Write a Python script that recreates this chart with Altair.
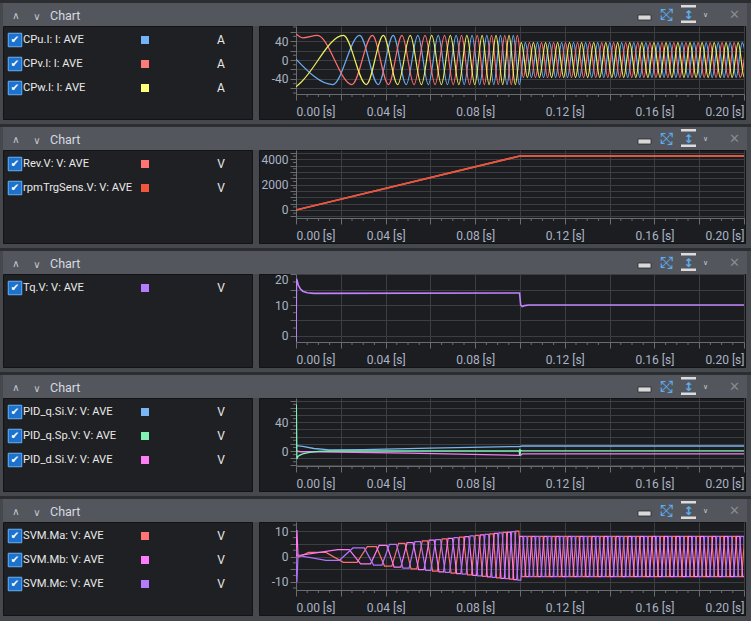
import json
import altair as alt
import pandas as pd

# ---------------- style ----------------
FONT = "Roboto"
SYM = "DejaVu Sans"
FRAME = "#45484d"
HEADER = "#53565c"
SEP = "#2b2d30"
BOX = "#1f2023"
PBOX = "#1c1d20"
BORDER = "#131315"
GRID = "#3d3e41"
AXIS_C = "#6a6c70"
LABEL_C = "#aab4c6"
TEXT_C = "#e8e8e8"
HEAD_TXT = "#d5dae2"
CHK_FILL = "#1b72cf"
CHK_STROKE = "#6cb0f3"
ICON_BLUE = "#5aaef2"

PW, PH = 448, 68   # plot area of each panel
LW, LH = 250, 94   # legend box of each panel

# ---------------- data (time in ms) ----------------
X_GRID = [0, 20, 40, 60, 80, 100, 120, 140, 160, 180, 200]
X_LABELS = [0, 40, 80, 120, 160, 200]
X_MINOR = [5, 10, 15, 25, 30, 35, 45, 50, 55, 65, 70, 75, 85, 90, 95, 105, 110, 115,
           125, 130, 135, 145, 150, 155, 165, 170, 175, 185, 190, 195]

# Panel 1: phase currents, peaks / troughs
CPU_T = [0, 16.4, 28.4, 36.7, 43.4, 49.2, 54.4, 59.1, 63.5, 67.6, 71.5, 75.1, 78.6, 82.0,
         85.2, 88.3, 91.3, 94.2, 97.0, 99.7,
         102.4, 105.1, 107.8, 110.5, 113.2, 115.9, 118.6, 121.2, 123.9, 126.6,
         129.3, 132.0, 134.7, 137.4, 140.1, 142.7, 145.4, 148.1, 150.8, 153.5,
         156.2, 158.9, 161.6, 164.3, 166.9, 169.6, 172.3, 175.0, 177.7, 180.4,
         183.1, 185.8, 188.5, 191.1, 193.8, 196.5, 199.2, 201.9]
CPU_V = [2,
         -52, 52, -52, 52, -52, 52, -52, 52, -52, 52,
         -52, 52, -52, 52, -52, 52, -52, 52, -52,
         37, -37, 37, -37, 37, -37, 37, -37, 37, -37,
         37, -37, 37, -37, 37, -37, 37, -37, 37, -37,
         37, -37, 37, -37, 37, -37, 37, -37, 37, -37,
         37, -37, 37, -37, 37, -37, 37, -37]
CPV_T = [0, 3.0, 9.5, 25.0, 34.1, 41.3, 47.3, 52.7, 57.6, 62.1, 66.3, 70.2, 73.9, 77.5,
         80.9, 84.1, 87.3, 90.3, 93.2, 96.1, 98.8,
         101.5, 104.2, 106.9, 109.6, 112.3, 115.0, 117.7, 120.3, 123.0, 125.7,
         128.4, 131.1, 133.8, 136.5, 139.2, 141.8, 144.5, 147.2, 149.9, 152.6,
         155.3, 158.0, 160.7, 163.4, 166.0, 168.7, 171.4, 174.1, 176.8, 179.5,
         182.2, 184.9, 187.5, 190.2, 192.9, 195.6, 198.3, 201.0]
CPV_V = [55, 47,
         52, -52, 52, -52, 52, -52, 52, -52, 52, -52,
         52, -52, 52, -52, 52, -52, 52, -52, 52,
         -37, 37, -37, 37, -37, 37, -37, 37, -37, 37,
         -37, 37, -37, 37, -37, 37, -37, 37, -37, 37,
         -37, 37, -37, 37, -37, 37, -37, 37, -37, 37,
         -37, 37, -37, 37, -37, 37, -37, 37]
CPW_T = [0, 2.5, 21.2, 31.4, 39.0, 45.4, 51.0, 56.0, 60.6, 64.9, 68.9, 72.7, 76.3, 79.8,
         83.1, 86.2, 89.3, 92.3, 95.1, 97.9,
         100.6, 103.3, 106.0, 108.7, 111.4, 114.1, 116.8, 119.5, 122.1, 124.8,
         127.5, 130.2, 132.9, 135.6, 138.3, 141.0, 143.6, 146.3, 149.0, 151.7,
         154.4, 157.1, 159.8, 162.5, 165.2, 167.8, 170.5, 173.2, 175.9, 178.6,
         181.3, 184.0, 186.7, 189.4, 192.0, 194.7, 197.4, 200.1, 202.8]
CPW_V = [-57, -46,
         52, -52, 52, -52, 52, -52, 52, -52, 52, -52,
         52, -52, 52, -52, 52, -52, 52, -52,
         37, -37, 37, -37, 37, -37, 37, -37, 37, -37,
         37, -37, 37, -37, 37, -37, 37, -37, 37, -37,
         37, -37, 37, -37, 37, -37, 37, -37, 37, -37,
         37, -37, 37, -37, 37, -37, 37, -37, 37]

# Panel 2: speed
REV_T = [0, 100, 200]
REV_V = [0, 4260, 4260]
RPM_T = [0, 100, 200]
RPM_V = [0, 4260, 4260]

# Panel 3: torque
TQ_T = [0, 0.2, 0.5, 1, 2, 3, 5, 8, 99.8, 100.3, 101, 102, 104, 200]
TQ_V = [-2, 18.5, 18, 16.5, 15.2, 14.5, 14.0, 13.8, 13.9, 10.0, 9.5, 9.8, 10.0, 10.0]

# Panel 4: PID outputs
QSI_T = [0, 0.3, 3, 8, 15, 30, 60, 99.8, 100.2, 101, 200]
QSI_V = [0, 7.5, 6.5, 3.5, 1.5, 2.0, 4.0, 6.3, 6.6, 7.0, 7.0]
QSP_T = [0, 0.15, 0.4, 0.8, 1.5, 3, 6, 10, 15, 99.7, 99.8, 99.9, 100.0, 100.3, 101, 200]
QSP_V = [0, 65, -11, -8, -6, -4, -2, -0.5, 0, 0, -6, 3, -5, 1, 0.3, 0.3]
DSI_T = [0, 2, 10, 50, 99.8, 100.2, 101, 200]
DSI_V = [0, -1, -1, -3, -6, -6, -4, -4]

# Panel 5: SVM modulation, start transient + plateau levels at the phase extremes
SVMA_START_T = [0, 0.5, 1.2]
SVMA_START_V = [0, 0.8, -0.2]
SVMA_V = [1.6, -2.3, 3.9, -3.8, 5.2, -4.9, 6.2, -5.8, 7.0, -6.6,
          7.7, -7.3, 8.4, -7.9, 9.0, -8.5, 9.6, -9.0, 10.1,
          -8, 8, -8, 8, -8, 8, -8, 8, -8, 8,
          -8, 8, -8, 8, -8, 8, -8, 8, -8, 8,
          -8, 8, -8, 8, -8, 8, -8, 8, -8, 8,
          -8, 8, -8, 8, -8, 8, -8, 8]
SVMB_START_T = [0, 0.4, 0.9]
SVMB_START_V = [0, 10.5, 0.4]
SVMB_V = [2.7, -2.9, 4.4, -4.2, 5.5, -5.2, 6.5, -6.1, 7.2, -6.8,
          7.9, -7.5, 8.6, -8.1, 9.2, -8.7, 9.7, -9.2,
          8, -8, 8, -8, 8, -8, 8, -8, 8, -8,
          8, -8, 8, -8, 8, -8, 8, -8, 8, -8,
          8, -8, 8, -8, 8, -8, 8, -8, 8, -8,
          8, -8, 8, -8, 8, -8, 8, -8, 8]
SVMC_START_T = [0, 0.4, 0.9]
SVMC_START_V = [0, -10.2, 0.4]
SVMC_V = [-1.5, 3.4, -3.4, 4.8, -4.6, 5.9, -5.5, 6.7, -6.3, 7.5,
          -7.0, 8.2, -7.7, 8.8, -8.3, 9.4, -8.8, 9.9, -9.4,
          8, -8, 8, -8, 8, -8, 8, -8, 8, -8,
          8, -8, 8, -8, 8, -8, 8, -8, 8, -8,
          8, -8, 8, -8, 8, -8, 8, -8, 8, -8,
          8, -8, 8, -8, 8, -8, 8, -8]


def frame(ts, vs):
    return pd.DataFrame(list(zip(ts, vs)), columns=["t", "v"])


def plateau(start_t, start_v, ts, vs):
    """Hold each read extreme for a quarter of the gap to its neighbours."""
    out_t, out_v = list(start_t), list(start_v)
    n = min(len(ts), len(vs))
    for i in range(n):
        lo = ts[i] - ts[i - 1] if i > 0 else ts[i + 1] - ts[i]
        hi = ts[i + 1] - ts[i] if i < n - 1 else ts[i] - ts[i - 1]
        out_t += [ts[i] - lo / 4, ts[i] + hi / 4]
        out_v += [vs[i], vs[i]]
    return out_t, out_v


SVMA = plateau(SVMA_START_T, SVMA_START_V, CPV_T[2:], SVMA_V)
SVMB = plateau(SVMB_START_T, SVMB_START_V, CPW_T[2:], SVMB_V)
SVMC = plateau(SVMC_START_T, SVMC_START_V, CPU_T[1:], SVMC_V)

PANELS = [
    dict(names=["CPu.I: I: AVE", "CPv.I: I: AVE", "CPw.I: I: AVE"],
         swatches=["#72b4f7", "#ff7b7b", "#ffff7a"], unit="A",
         series=[(CPU_T, CPU_V, "#6aaef2"), (CPV_T, CPV_V, "#ff6f6f"), (CPW_T, CPW_V, "#f2ef5e")],
         ydom=[-72, 72], yticks=[-60, -40, -20, 0, 20, 40, 60], ylabels=[-40, 0, 40],
         yminor=[-70, -50, -30, -10, 10, 30, 50, 70], interp="monotone", sw=1.2),
    dict(names=["Rev.V: V: AVE", "rpmTrgSens.V: V: AVE"],
         swatches=["#ff7575", "#f0573b"], unit="V",
         series=[(REV_T, REV_V, "#ff7070"), (RPM_T, RPM_V, "#e8553b")],
         ydom=[-632, 4733], yticks=[-500, 0, 500, 1000, 1500, 2000, 2500, 3000, 3500, 4000, 4500],
         ylabels=[0, 2000, 4000],
         yminor=[-250, 250, 750, 1250, 1750, 2250, 2750, 3250, 3750, 4250], interp="linear", sw=1.6),
    dict(names=["Tq.V: V: AVE"], swatches=["#b57cff"], unit="V",
         series=[(TQ_T, TQ_V, "#c084ff")],
         ydom=[-2.05, 20.1], yticks=[0, 5, 10, 15, 20], ylabels=[0, 10, 20],
         yminor=[2.5, 7.5, 12.5, 17.5], interp="linear", sw=1.6),
    dict(names=["PID_q.Si.V: V: AVE", "PID_q.Sp.V: V: AVE", "PID_d.Si.V: V: AVE"],
         swatches=["#78b6f6", "#80f2b4", "#ff7ef6"], unit="V",
         series=[(DSI_T, DSI_V, "#f07ef0"), (QSI_T, QSI_V, "#78b4f0"), (QSP_T, QSP_V, "#7ff0b0")],
         ydom=[-20.9, 73.9], yticks=[-20, -10, 0, 10, 20, 30, 40, 50, 60, 70], ylabels=[0, 40],
         yminor=[-15, -5, 5, 15, 25, 35, 45, 55, 65], interp="linear", sw=1.3),
    dict(names=["SVM.Ma: V: AVE", "SVM.Mb: V: AVE", "SVM.Mc: V: AVE"],
         swatches=["#ff7575", "#ff7bff", "#b57bff"], unit="V",
         series=[(SVMA[0], SVMA[1], "#ff6e6e"), (SVMB[0], SVMB[1], "#ff78f8"), (SVMC[0], SVMC[1], "#b072ff")],
         ydom=[-13.3, 13.7], yticks=[-10, -5, 0, 5, 10], ylabels=[-10, 0, 10],
         yminor=[-12.5, -7.5, -2.5, 2.5, 7.5, 12.5], interp="linear", sw=1.2),
]

ONE = pd.DataFrame({"a": [0]})


def box(x1, x2, y1, y2, **kw):
    return alt.Chart(ONE).mark_rect(**kw).encode(
        x=alt.value(x1), x2=alt.value(x2), y=alt.value(y1), y2=alt.value(y2))


def glyph(txt, xp, yp, **kw):
    return alt.Chart(ONE).mark_text(text=txt, baseline="middle", **kw).encode(
        x=alt.value(xp), y=alt.value(yp))


def legend_panel(k, p):
    layers = []
    if k == 0:
        layers.append(box(-3, 748, -26, 595, fill=FRAME))
    layers += [
        box(-3, 748, -26, -23, fill=SEP),
        box(0, 744, -23, 0, fill=HEADER),
        box(0.5, LW - 0.5, 0.5, LH - 0.5, fill=BOX, stroke=BORDER, strokeWidth=1),
        box(256.5, 742.5, 0.5, LH - 0.5, fill=PBOX, stroke=BORDER, strokeWidth=1),
        glyph("∧", 13, -10, font=SYM, fontSize=10, color="#c4c8d0"),
        glyph("∨", 34, -9.5, font=SYM, fontSize=10, color="#c4c8d0"),
        glyph("Chart", 47, -10, font=FONT, fontSize=12.5, color=HEAD_TXT, align="left"),
        box(635, 648, -11, -6, fill="#d9d9d9", stroke="#2a2a2a", strokeWidth=0.8),
        glyph("⤢", 663, -11, font=SYM, fontSize=16, color=ICON_BLUE),
        glyph("⤡", 663, -11, font=SYM, fontSize=16, color=ICON_BLUE),
        box(678, 693, -21, -18.5, fill="#dcdcdc"),
        box(678, 693, -5.5, -3, fill="#dcdcdc"),
        glyph("↕", 685.5, -11.5, font=SYM, fontSize=12, fontWeight="bold", color=ICON_BLUE),
        glyph("∨", 702.5, -11, font=SYM, fontSize=7, color="#d0d0d0"),
        glyph("✕", 731.5, -11, font=SYM, fontSize=13, color="#8a8a8a"),
    ]
    n = len(p["names"])
    df = pd.DataFrame({"row": list(range(n)), "name": p["names"],
                       "color": p["swatches"], "unit": [p["unit"]] * n})
    ry = alt.Y("row:Q", scale=alt.Scale(domain=[0, 1], range=[14, 38]), axis=None)
    layers += [
        alt.Chart(df).mark_square(size=182, fill=CHK_FILL, stroke=CHK_STROKE, strokeWidth=1,
                                  opacity=1).encode(x=alt.value(12), y=ry),
        alt.Chart(df).mark_text(text="✔", font=SYM, fontSize=10.5, color="white",
                                baseline="middle").encode(x=alt.value(12), y=ry),
        alt.Chart(df).mark_text(align="left", baseline="middle", font=FONT, fontSize=11.2,
                                color=TEXT_C).encode(x=alt.value(20), y=ry, text="name:N"),
        alt.Chart(df).mark_square(size=64, opacity=1).encode(
            x=alt.value(142), y=ry, color=alt.Color("color:N", scale=None)),
        alt.Chart(df).mark_text(align="center", baseline="middle", font=FONT, fontSize=12,
                                color=TEXT_C).encode(x=alt.value(218), y=ry, text="unit:N"),
    ]
    return alt.layer(*layers).properties(width=LW, height=LH)


X_EXPR = ("indexof(%s, datum.value) >= 0 ? format(datum.value / 1000, '.2f') + ' [s]' : ''"
          % json.dumps(X_LABELS))


def plot_panel(p):
    xaxis = alt.Axis(values=X_GRID, labelExpr=X_EXPR, labelFlush=True, labelOverlap=False,
                     grid=True, gridColor=GRID, gridWidth=1, domainColor=AXIS_C, tickColor=AXIS_C,
                     tickSize=6, labelColor=LABEL_C, labelFont=FONT, labelFontSize=12,
                     labelPadding=6, title=None)
    y_expr = "indexof(%s, datum.value) >= 0 ? '' + datum.value : ''" % json.dumps(p["ylabels"])
    yaxis = alt.Axis(values=p["yticks"], labelExpr=y_expr, labelFlush=True, labelOverlap=False,
                     grid=True, gridColor=GRID, gridWidth=1, domainColor=AXIS_C, tickColor=AXIS_C,
                     tickSize=6, labelColor=LABEL_C, labelFont=FONT, labelFontSize=12,
                     labelPadding=2, title=None)
    x = alt.X("t:Q", scale=alt.Scale(domain=[0, 200], nice=False, zero=False), axis=xaxis)
    y = alt.Y("v:Q", scale=alt.Scale(domain=p["ydom"], nice=False, zero=False), axis=yaxis)
    layers = [
        alt.Chart(pd.DataFrame({"t": X_MINOR})).mark_rule(color=AXIS_C).encode(
            x=x, y=alt.value(PH), y2=alt.value(PH + 3)),
        alt.Chart(pd.DataFrame({"v": p["yminor"]})).mark_rule(color=AXIS_C).encode(
            y=y, x=alt.value(-3), x2=alt.value(0)),
    ]
    for ts, vs, col in p["series"]:
        layers.append(alt.Chart(frame(ts, vs)).mark_line(
            color=col, strokeWidth=p["sw"], interpolate=p["interp"], clip=True).encode(x=x, y=y))
    return alt.layer(*layers).properties(width=PW, height=PH)


cells = []
for k, p in enumerate(PANELS):
    cells.append(legend_panel(k, p))
    cells.append(plot_panel(p))

chart = alt.concat(*cells, columns=2, spacing={"row": 30, "column": 43}, bounds="flush").properties(
    background=FRAME, padding=0
).configure_view(strokeWidth=0)

chart.save("out.html", embed_options={"renderer": "svg", "actions": False})
